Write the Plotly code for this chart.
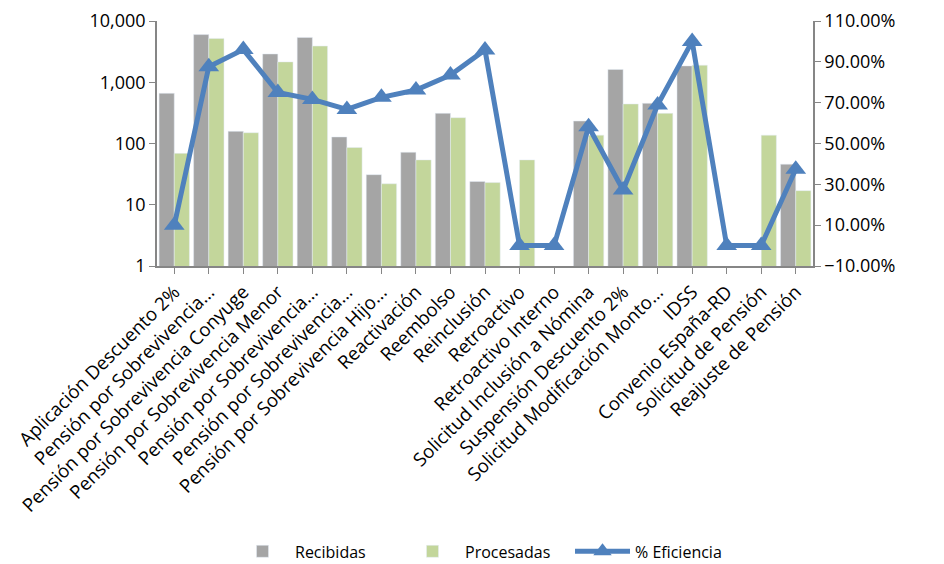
from plotly import graph_objs as go

categorias = [
  'Aplicación Descuento 2%',
  'Pensión por Sobrevivencia...',
  'Pensión por Sobrevivencia Conyuge',
  'Pensión por Sobrevivencia Menor',
  'Pensión por Sobrevivencia...',
  'Pensión por Sobrevivencia...',
  'Pensión por Sobrevivencia Hijo...',
  'Reactivación',
  'Reembolso',
  'Reinclusión',
  'Retroactivo',
  'Retroactivo Interno',
  'Solicitud Inclusión a Nómina',
  'Suspensión Descuento 2%',
  'Solicitud Modificación Monto...',
  'IDSS',
  'Convenio España-RD',
  'Solicitud de Pensión',
  'Reajuste de Pensión',
]

recibidas = [660, 6000, 158, 2900, 5400, 128, 31, 72, 311, 24, None, None, 233, 1620, 453, 1850, None, None, 46]
procesadas = [69, 5200, 150, 2150, 3900, 86, 22, 54, 264, 23, 54, None, 137, 442, 311, 1900, None, 137, 17]
eficiencia = [0.10, 0.876, 0.96, 0.75, 0.716, 0.667, 0.726, 0.762, 0.835, 0.958, 0, 0, 0.582, 0.272, 0.689, 1.0, 0, 0, 0.374]

# keep duplicate labels as separate categories
x_ids = list(range(len(categorias)))

font = {'family': 'Open Sans', 'size': 15, 'color': '#000000'}
axis_color = '#868686'

fig = go.Figure()

fig.add_trace(go.Bar(
  x = x_ids, y = recibidas, name = 'Recibidas',
  marker = {'color': '#A5A5A5'},
))
fig.add_trace(go.Bar(
  x = x_ids, y = procesadas, name = 'Procesadas',
  marker = {'color': '#C3D69B'},
))
fig.add_trace(go.Scatter(
  x = x_ids, y = eficiencia, name = '% Eficiencia',
  yaxis = 'y2', mode = 'lines+markers',
  line = {'color': '#4F81BD', 'width': 5},
  marker = {'symbol': 'triangle-up', 'size': 18, 'color': '#4F81BD'},
))

# page body has an 8px margin, so the figure is a bit smaller than the window
fig.update_layout(
  width = 936, height = 556,
  margin = {'l': 149, 'r': 131, 't': 13, 'b': 298, 'autoexpand': False},
  paper_bgcolor = 'white', plot_bgcolor = 'white',
  font = font,
  barmode = 'group', bargap = 0.12, bargroupgap = 0,
  xaxis = {
    'tickmode': 'array', 'tickvals': x_ids, 'ticktext': categorias,
    'tickangle': -45, 'tickfont': {'size': 18.7},
    'range': [-0.5, len(categorias) - 0.5], 'automargin': False,
    'showline': True, 'linecolor': axis_color, 'linewidth': 1.5,
    'ticks': 'outside', 'tickson': 'boundaries', 'ticklen': 6,
    'tickcolor': axis_color, 'showgrid': False,
  },
  yaxis = {
    'type': 'log', 'range': [0, 4], 'automargin': False,
    'tickvals': [1, 10, 100, 1000, 10000],
    'ticktext': ['1', '10', '100', '1,000', '10,000'],
    'tickfont': {'size': 18},
    'showline': True, 'linecolor': axis_color, 'linewidth': 1.5,
    'ticks': 'outside', 'ticklen': 6, 'tickcolor': axis_color,
    'showgrid': False, 'zeroline': False,
  },
  yaxis2 = {
    'overlaying': 'y', 'side': 'right', 'automargin': False,
    'range': [-0.1, 1.1], 'tick0': -0.1, 'dtick': 0.2,
    'tickformat': '.2%', 'tickfont': {'size': 18},
    'showline': True, 'linecolor': axis_color, 'linewidth': 1.5,
    'ticks': 'outside', 'ticklen': 6, 'tickcolor': axis_color,
    'showgrid': False, 'zeroline': False,
  },
  legend = {
    'orientation': 'h', 'x': 0.5, 'xanchor': 'center',
    'y': -1.165, 'yanchor': 'middle', 'yref': 'paper',
    'font': {'size': 16}, 'traceorder': 'normal',
    'itemwidth': 55, 'entrywidth': 100,
  },
)

fig.write_html('out.html')
